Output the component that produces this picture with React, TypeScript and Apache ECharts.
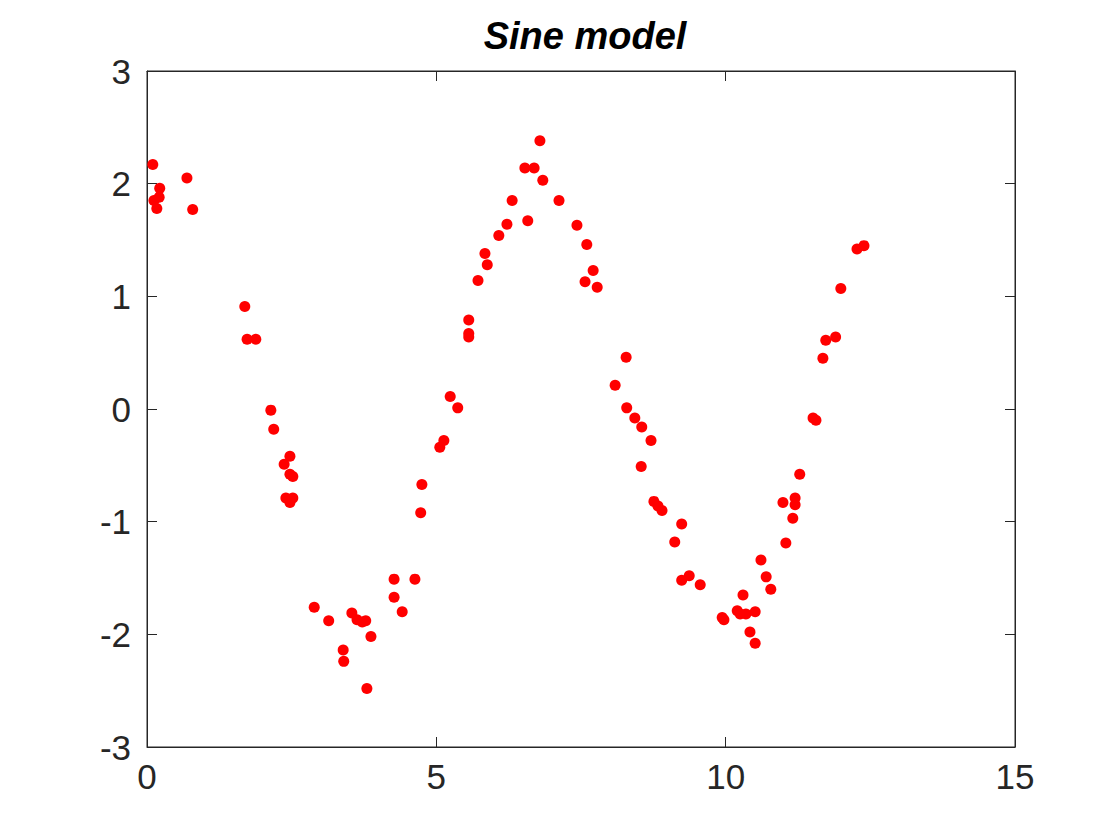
import { useEffect, useRef } from "react";
import * as echarts from "echarts";

const xs = [0.1, 0.12, 0.17, 0.21, 0.22, 0.69, 0.79, 1.69, 1.73, 1.88, 2.14, 2.19, 2.37, 2.47, 2.47, 2.52, 2.4, 2.47, 2.52, 2.89, 3.14, 3.39, 3.4, 3.54, 3.63, 3.72, 3.78, 3.8, 3.87, 4.27, 4.27, 4.41, 4.63, 4.73, 4.75, 5.06, 5.13, 5.24, 5.37, 5.56, 5.56, 5.56, 5.72, 5.84, 5.88, 6.08, 6.22, 6.31, 6.53, 6.58, 6.69, 6.79, 6.84, 7.12, 7.43, 7.6, 7.57, 7.71, 7.78, 8.09, 8.28, 8.29, 8.43, 8.55, 8.54, 8.71, 8.76, 8.83, 8.9, 9.12, 9.24, 9.24, 9.37, 9.56, 9.94, 9.97, 10.2, 10.25, 10.3, 10.35, 10.42, 10.51, 10.51, 10.61, 10.7, 10.78, 10.99, 11.04, 11.16, 11.2, 11.2, 11.28, 11.51, 11.56, 11.68, 11.73, 11.9, 11.99, 12.27, 12.39];
const ys = [2.17, 1.85, 1.78, 1.88, 1.96, 2.05, 1.77, 0.91, 0.62, 0.62, -0.01, -0.18, -0.49, -0.42, -0.58, -0.6, -0.79, -0.83, -0.79, -1.76, -1.88, -2.14, -2.24, -1.81, -1.87, -1.89, -1.88, -2.48, -2.02, -1.51, -1.67, -1.8, -1.51, -0.92, -0.67, -0.34, -0.28, 0.11, 0.01, 0.79, 0.67, 0.64, 1.14, 1.38, 1.28, 1.54, 1.64, 1.85, 2.14, 1.67, 2.14, 2.38, 2.03, 1.85, 1.63, 1.46, 1.13, 1.23, 1.08, 0.21, 0.46, 0.01, -0.08, -0.16, -0.51, -0.28, -0.82, -0.86, -0.9, -1.18, -1.02, -1.52, -1.48, -1.56, -1.85, -1.87, -1.79, -1.82, -1.65, -1.82, -1.98, -1.8, -2.08, -1.34, -1.49, -1.6, -0.83, -1.19, -0.97, -0.79, -0.85, -0.58, -0.08, -0.1, 0.45, 0.61, 0.64, 1.07, 1.42, 1.45];

const labelFont = { fontSize: 35, color: "#262626", fontFamily: "Liberation Sans, Arial, sans-serif" };
const line = { show: true, onZero: false, lineStyle: { color: "#262626", width: 1 } };
const tick = { show: true, inside: true, length: 10, lineStyle: { color: "#262626" } };

export default function App() {
  const ref = useRef<HTMLDivElement>(null);
  useEffect(() => {
    if (!ref.current) return;
    const chart = echarts.init(ref.current, undefined, { renderer: "svg" });
    chart.setOption({
      animation: false,
      backgroundColor: "#fff",
      title: {
        text: "Sine model",
        left: 580,
        top: 12,
        textAlign: "center",
        textStyle: { fontSize: 38, fontWeight: "bold", fontStyle: "italic", color: "#000", fontFamily: "Liberation Sans, Arial, sans-serif" },
      },
      grid: { left: 147, right: 105, top: 71, bottom: 93, show: true, borderColor: "#262626", borderWidth: 1 },
      xAxis: [
        { type: "value", min: 0, max: 15, interval: 5, position: "bottom", axisLine: line, axisTick: tick, splitLine: { show: false }, axisLabel: { ...labelFont, margin: 12 } },
        { type: "value", min: 0, max: 15, interval: 5, position: "top", axisLine: line, axisTick: tick, splitLine: { show: false }, axisLabel: { show: false } },
      ],
      yAxis: [
        { type: "value", min: -3, max: 3, interval: 1, position: "left", axisLine: line, axisTick: tick, splitLine: { show: false }, axisLabel: { ...labelFont, margin: 16 } },
        { type: "value", min: -3, max: 3, interval: 1, position: "right", axisLine: line, axisTick: tick, splitLine: { show: false }, axisLabel: { show: false } },
      ],
      series: [
        {
          type: "scatter",
          symbol: "circle",
          symbolSize: 11,
          itemStyle: { color: "#ff0000", opacity: 1 },
          data: xs.map((x, i) => [x, ys[i]]),
        },
      ],
    });
    return () => chart.dispose();
  }, []);
  return <div ref={ref} style={{ position: "absolute", left: 0, top: 0, width: 1120, height: 840 }} />;
}
